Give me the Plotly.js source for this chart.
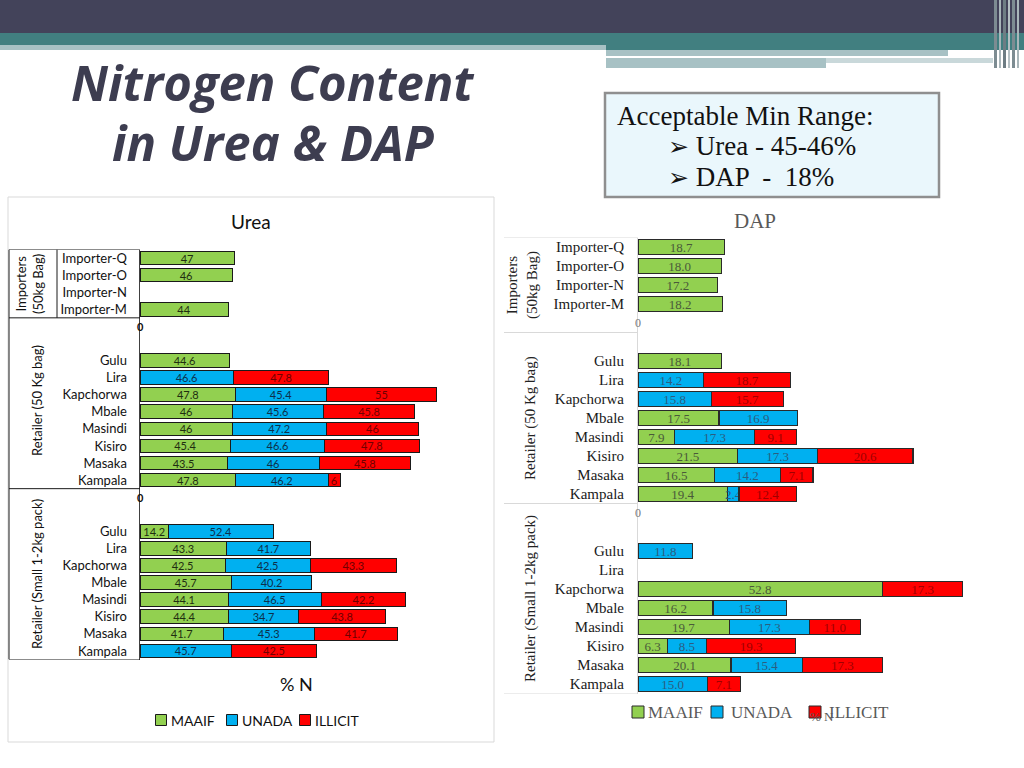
<!DOCTYPE html>
<html>
<head>
<meta charset="utf-8">
<script src="https://cdn.plot.ly/plotly-3.0.1.min.js"></script>
<style>html,body{margin:0;padding:0;background:#fff;}#chart{width:1024px;height:768px;}</style>
</head>
<body>
<div id="chart"></div>
<script>
// ---------- DATA ----------
const seriesNames = ['MAAIF', 'UNADA', 'ILLICIT'];
const importers = ['Importer-Q', 'Importer-O', 'Importer-N', 'Importer-M'];
const districts = ['Gulu', 'Lira', 'Kapchorwa', 'Mbale', 'Masindi', 'Kisiro', 'Masaka', 'Kampala'];
const groupLabels = ['Importers<br>(50kg Bag)', 'Retailer (50 Kg bag)', 'Retailer (Small 1-2kg pack)'];

// Urea (% N)
const ureaImpMAAIF = [47, 46, null, 44];
const ureaRet50MAAIF = [44.6, null, 47.8, 46, 46, 45.4, 43.5, 47.8];
const ureaRet50UNADA = [null, 46.6, 45.4, 45.6, 47.2, 46.6, 46, 46.2];
const ureaRet50ILLICIT = [null, 47.8, 55, 45.8, 46, 47.8, 45.8, 6];
const ureaSmallMAAIF = [14.2, 43.3, 42.5, 45.7, 44.1, 44.4, 41.7, null];
const ureaSmallUNADA = [52.4, 41.7, 42.5, 40.2, 46.5, 34.7, 45.3, 45.7];
const ureaSmallILLICIT = [null, null, 43.3, null, 42.2, 43.8, 41.7, 42.5];

// DAP (% N)
const dapImpMAAIF = [18.7, 18.0, 17.2, 18.2];
const dapRet50MAAIF = [18.1, null, null, 17.5, 7.9, 21.5, 16.5, 19.4];
const dapRet50UNADA = [null, 14.2, 15.8, 16.9, 17.3, 17.3, 14.2, 2.4];
const dapRet50ILLICIT = [null, 18.7, 15.7, null, 9.1, 20.6, 7.1, 12.4];
const dapSmallMAAIF = [null, null, 52.8, 16.2, 19.7, 6.3, 20.1, null];
const dapSmallUNADA = [11.8, null, null, 15.8, 17.3, 8.5, 15.4, 15.0];
const dapSmallILLICIT = [null, null, 17.3, null, 11.0, 19.3, 17.3, 7.1];

// ---------- LAYOUT HELPERS ----------
const W = 1024, H = 768;
const px = v => v / W;
const py = v => 1 - v / H;
const START = [0, 6, 16];           // first row of each group
const rowsFrom = (s, n) => Array.from({length: n}, (_, i) => s + i);
const yImp = rowsFrom(START[0], importers.length);
const yRet = rowsFrom(START[1], districts.length);
const ySml = rowsFrom(START[2], districts.length);
const tickvals = [...yImp, ...yRet, ...ySml];
const ticktext = [...importers, ...districts, ...districts];

const colors = {MAAIF: '#92d050', UNADA: '#00b0f0', ILLICIT: '#ff0000'};

function barTrace(name, xs, ys, axis, opts) {
  return {
    type: 'bar', orientation: 'h', name: name,
    x: xs, y: ys,
    xaxis: axis.x, yaxis: axis.y,
    showlegend: false,
    width: 0.8,
    marker: {color: colors[name], line: {color: opts.lineColor, width: opts.lineWidth}},
    text: xs.map(v => v == null ? '' : opts.fmt(v)),
    textposition: 'inside', insidetextanchor: 'middle', textangle: 0,
    constraintext: 'none',
    textfont: {family: opts.font, size: opts.fontSize, color: opts.textColors[name]},
    hoverinfo: 'x+y+name'
  };
}

const ureaOpts = {lineColor: '#1a1a1a', lineWidth: 1,
  fmt: v => String(v), font: 'Lato, sans-serif', fontSize: 11,
  textColors: {MAAIF: '#1f2e10', UNADA: '#0d2f4a', ILLICIT: '#700000'}};
const dapOpts = {lineColor: '#2a2a2a', lineWidth: 1.2,
  fmt: v => v.toFixed(1), font: '"Liberation Serif", serif', fontSize: 13,
  textColors: {MAAIF: '#4a5a3a', UNADA: '#2b5d80', ILLICIT: '#a00000'}};

const A1 = {x: 'x', y: 'y'}, A2 = {x: 'x2', y: 'y2'};
const traces = [
  barTrace('MAAIF', [...ureaImpMAAIF, ...ureaRet50MAAIF, ...ureaSmallMAAIF], [...yImp, ...yRet, ...ySml], A1, ureaOpts),
  barTrace('UNADA', [...ureaRet50UNADA, ...ureaSmallUNADA], [...yRet, ...ySml], A1, ureaOpts),
  barTrace('ILLICIT', [...ureaRet50ILLICIT, ...ureaSmallILLICIT], [...yRet, ...ySml], A1, ureaOpts),
  barTrace('MAAIF', [...dapImpMAAIF, ...dapRet50MAAIF, ...dapSmallMAAIF], [...yImp, ...yRet, ...ySml], A2, dapOpts),
  barTrace('UNADA', [...dapRet50UNADA, ...dapSmallUNADA], [...yRet, ...ySml], A2, dapOpts),
  barTrace('ILLICIT', [...dapRet50ILLICIT, ...dapSmallILLICIT], [...yRet, ...ySml], A2, dapOpts)
];

// ---------- SHAPES ----------
const shapes = [];
function rectPx(x0, y0, x1, y1, fill, line, layer) {
  shapes.push({type: 'rect', xref: 'paper', yref: 'paper', x0: px(x0), x1: px(x1), y0: py(y0), y1: py(y1),
    fillcolor: fill, line: line || {width: 0}, layer: layer || 'below'});
}
// header bands
rectPx(0, 0, 1024, 33, '#43435a');
rectPx(0, 33, 1024, 50, '#417f80');
rectPx(0, 45, 606, 50, '#a7c1c4');
rectPx(606, 50, 948, 56, '#a7c1c4');
rectPx(606, 58, 826, 68, '#a7c1c4');
rectPx(826, 58, 993, 63, '#c9d8da');
[[994, 997, '#7d8c92'], [999, 1001, '#a9b6ba'], [1003, 1006, '#6e7d84'], [1008, 1010, '#b5c0c4'], [1012, 1015, '#7d8c92'], [1017, 1019, '#a9b6ba']]
  .forEach(s => rectPx(s[0], 0, s[1], 68, s[2]));
// info box
rectPx(605, 93, 939, 197, '#eaf7fc', {color: '#8f8f8f', width: 2.5});
// urea panel
rectPx(8, 197, 494, 742, 'rgba(0,0,0,0)', {color: '#d9d9d9', width: 1});

// group separator lines (in data rows for y)
function hline(yref, row, x0, x1, color) {
  shapes.push({type: 'line', xref: 'paper', yref: yref, x0: px(x0), x1: px(x1), y0: row, y1: row,
    line: {color: color, width: 1}});
}
function vline(yref, x, r0, r1, color) {
  shapes.push({type: 'line', xref: 'paper', yref: yref, x0: px(x), x1: px(x), y0: r0, y1: r1,
    line: {color: color, width: 1}});
}
[-0.5, 3.5, 13.5, 23.5].forEach(r => hline('y', r, 9, 140, '#1a1a1a'));
vline('y', 9, -0.5, 23.5, '#1a1a1a');
vline('y', 57, -0.5, 3.5, '#1a1a1a');
[-0.5, 4.5, 13.5, 23.5].forEach(r => hline('y2', r, 504, 638, '#d9d9d9'));

// ---------- ANNOTATIONS ----------
const ann = [];
function txt(text, x, y, font, extra) {
  ann.push(Object.assign({text: text, xref: 'paper', yref: 'paper', x: px(x), y: py(y),
    showarrow: false, font: font, xanchor: 'center', yanchor: 'middle'}, extra || {}));
}
const titleFont = {family: '"Open Sans", sans-serif', size: 49, color: '#3d3d50'};
txt('<b><i>Nitrogen Content</i></b>', 273, 82, titleFont);
txt('<b><i>in Urea &amp; DAP</i></b>', 273, 142, titleFont);
const boxFont = {family: '"Liberation Serif", serif', size: 27, color: '#111'};
txt('Acceptable Min Range:', 615, 116, boxFont, {xanchor: 'left'});
txt('<span style="font-family:DejaVu Sans;font-size:25px">➢</span> Urea - 45-46%', 666, 146, boxFont, {xanchor: 'left'});
txt('<span style="font-family:DejaVu Sans;font-size:25px">➢</span> DAP  -  18%', 666, 177, boxFont, {xanchor: 'left'});

txt('Urea', 251, 221, {family: 'Lato, sans-serif', size: 19, color: '#111'});
txt('DAP', 755, 221, {family: '"Liberation Serif", serif', size: 21, color: '#595959'});
txt('% N', 296, 684, {family: 'Lato, sans-serif', size: 18, color: '#111'});

// legends (symbol squares + labels)
const ureaLegendX = [161, 232, 305];
const dapLegendX = [638, 717, 815];
seriesNames.forEach((n, i) => {
  rectPx(ureaLegendX[i] - 5.5, 714.5, ureaLegendX[i] + 5.5, 725.5, colors[n], {color: '#1a1a1a', width: 1}, 'above');
  txt(n, ureaLegendX[i] + 8, 720, {family: 'Lato, sans-serif', size: 14, color: '#111'}, {xanchor: 'left'});
  rectPx(dapLegendX[i] - 6, 706, dapLegendX[i] + 6, 718, colors[n], {color: '#2a2a2a', width: 1}, 'above');
  txt(n, dapLegendX[i] + (i === 0 ? 8 : 12), 712, {family: '"Liberation Serif", serif', size: 17, color: '#595959'}, {xanchor: 'left'});
});
txt('% N', 822, 716, {family: '"Liberation Serif", serif', size: 13, color: '#595959'});

const uGroupFont = {family: 'Lato, sans-serif', size: 13, color: '#111'};
txt(groupLabels[0], 29, 284, uGroupFont, {textangle: -90});
txt(groupLabels[1], 37, 401, uGroupFont, {textangle: -90});
txt(groupLabels[2], 37, 574, uGroupFont, {textangle: -90});
const dGroupFont = {family: '"Liberation Serif", serif', size: 15, color: '#222'};
txt(groupLabels[0], 522, 285, dGroupFont, {textangle: -90});
txt(groupLabels[1], 530, 418, dGroupFont, {textangle: -90});
txt(groupLabels[2], 530, 599, dGroupFont, {textangle: -90});

// zero labels on gap rows
[4, 14].forEach(r => {
  ann.push({text: '<b>0</b>', xref: 'x', yref: 'y', x: 0, y: r, showarrow: false,
    font: {family: 'Lato, sans-serif', size: 11, color: '#111'}, xanchor: 'center', yanchor: 'middle'});
  ann.push({text: '0', xref: 'x2', yref: 'y2', x: 0, y: r, showarrow: false,
    font: {family: '"Liberation Serif", serif', size: 12, color: '#777'}, xanchor: 'center', yanchor: 'middle'});
});

// ---------- LAYOUT ----------
const layout = {
  width: W, height: H, autosize: false,
  margin: {l: 0, r: 0, t: 0, b: 0},
  paper_bgcolor: '#fff', plot_bgcolor: 'rgba(0,0,0,0)',
  barmode: 'stack', showlegend: false,
  xaxis: {domain: [px(140), px(490)], range: [0, 175], visible: false, fixedrange: true},
  yaxis: {domain: [py(659.5), py(249.5)], range: [23.5, -0.5], tickvals: tickvals, ticktext: ticktext,
    showline: true, linecolor: '#404040', linewidth: 1.5, showgrid: false, zeroline: false,
    ticks: 'outside', ticklen: 9, tickcolor: 'rgba(0,0,0,0)',
    tickfont: {family: 'Lato, sans-serif', size: 13, color: '#111'}, fixedrange: true},
  xaxis2: {domain: [px(638), px(1010)], range: [0, 80.35], visible: false, anchor: 'y2', fixedrange: true},
  yaxis2: {domain: [py(693.5), py(237.5)], range: [23.5, -0.5], tickvals: tickvals, ticktext: ticktext,
    anchor: 'x2', showline: true, linecolor: '#d9d9d9', linewidth: 1, showgrid: false, zeroline: false,
    ticks: 'outside', ticklen: 10, tickcolor: 'rgba(0,0,0,0)',
    tickfont: {family: '"Liberation Serif", serif', size: 15, color: '#1a1a1a'}, fixedrange: true},
  shapes: shapes,
  annotations: ann
};

Plotly.newPlot('chart', traces, layout, {displayModeBar: false, staticPlot: true});
</script>
</body>
</html>
